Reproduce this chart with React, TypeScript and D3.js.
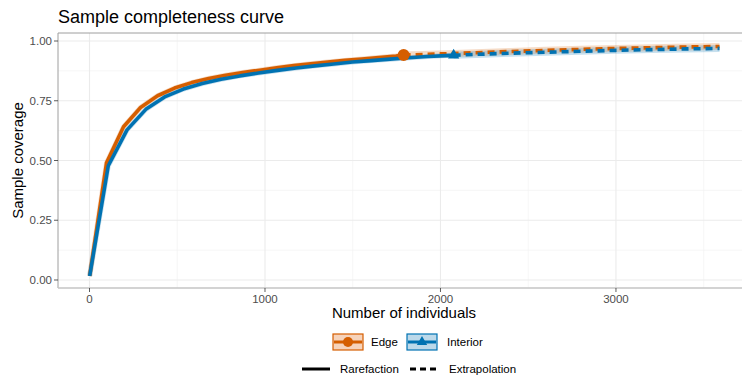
import React from "react";
import * as d3 from "d3";

// ---- data ----
const edgeRareN = [1, 97, 194, 291, 388, 485, 582, 679, 776, 873, 970, 1067, 1164, 1261, 1358, 1455, 1552, 1649, 1746, 1790];
const edgeRareC = [0.017, 0.49, 0.641, 0.722, 0.771, 0.803, 0.826, 0.843, 0.857, 0.868, 0.878, 0.888, 0.897, 0.905, 0.912, 0.919, 0.925, 0.931, 0.937, 0.941];
const edgeExtN = [1790, 2000, 2200, 2400, 2600, 2800, 3000, 3200, 3400, 3590];
const edgeExtC = [0.941, 0.946, 0.951, 0.956, 0.961, 0.965, 0.969, 0.972, 0.975, 0.977];

const intRareN = [1, 107, 214, 321, 428, 535, 642, 749, 856, 963, 1070, 1177, 1284, 1391, 1498, 1605, 1712, 1819, 1926, 2033, 2075];
const intRareC = [0.017, 0.478, 0.628, 0.714, 0.766, 0.799, 0.822, 0.84, 0.854, 0.866, 0.877, 0.887, 0.896, 0.904, 0.912, 0.918, 0.924, 0.93, 0.935, 0.939, 0.94];
const intExtN = [2075, 2200, 2400, 2600, 2800, 3000, 3200, 3400, 3590];
const intExtC = [0.94, 0.944, 0.949, 0.953, 0.957, 0.961, 0.964, 0.967, 0.969];

const xTicks = [0, 1000, 2000, 3000];
const xMinor = [500, 1500, 2500, 3500];
const yTicks = [0, 0.25, 0.5, 0.75, 1];
const yMinor = [0.125, 0.375, 0.625, 0.875];

const siteNames = ["Edge", "Interior"];
const methodNames = ["Rarefaction", "Extrapolation"];
const colors = ["#D55E00", "#0072B2"];
const fills = ["#f6d3bb", "#bcd9ea"];

const FONT = "'Liberation Sans', Arial, Helvetica, sans-serif";

export default function App() {
  const left = 58, top = 33, bottom = 288, right = 751;
  const x = d3.scaleLinear().domain([-179.5, 3769.5]).range([left, right]);
  const y = d3.scaleLinear().domain([-0.0335, 1.0335]).range([bottom, top]);
  const line = d3
    .line<[number, number]>()
    .x((d) => x(d[0]))
    .y((d) => y(d[1]));
  const zip = (a: number[], b: number[]) => a.map((v, i) => [v, b[i]] as [number, number]);

  const series = [
    { rare: zip(edgeRareN, edgeRareC), ext: zip(edgeExtN, edgeExtC) },
    { rare: zip(intRareN, intRareC), ext: zip(intExtN, intExtC) },
  ];

  const tri = (cx: number, cy: number, r: number) =>
    `M${cx},${cy - r}L${cx + r * 0.866},${cy + r * 0.5}L${cx - r * 0.866},${cy + r * 0.5}Z`;

  return (
    <svg
      width={742}
      height={378}
      style={{ position: "absolute", left: 0, top: 0, background: "#fff" }}
      fontFamily={FONT}
    >
      <defs>
        <clipPath id="panel">
          <rect x={left} y={top} width={right - left} height={bottom - top} />
        </clipPath>
      </defs>
      {/* grid */}
      <g clipPath="url(#panel)">
        {yMinor.map((t) => (
          <line key={"ym" + t} x1={left} x2={right} y1={y(t)} y2={y(t)} stroke="#f2f2f2" strokeWidth={0.7} />
        ))}
        {xMinor.map((t) => (
          <line key={"xm" + t} x1={x(t)} x2={x(t)} y1={top} y2={bottom} stroke="#f2f2f2" strokeWidth={0.7} />
        ))}
        {yTicks.map((t) => (
          <line key={"yg" + t} x1={left} x2={right} y1={y(t)} y2={y(t)} stroke="#ebebeb" strokeWidth={1.1} />
        ))}
        {xTicks.map((t) => (
          <line key={"xg" + t} x1={x(t)} x2={x(t)} y1={top} y2={bottom} stroke="#ebebeb" strokeWidth={1.1} />
        ))}
        {/* CI bands as translucent wide strokes */}
        {series.map((s, i) => (
          <g key={"band" + i} opacity={0.22}>
            <path d={line(s.rare) || ""} fill="none" stroke={colors[i]} strokeWidth={5} />
            <path d={line(s.ext) || ""} fill="none" stroke={colors[i]} strokeWidth={7} />
          </g>
        ))}
        {series.map((s, i) => (
          <g key={"ln" + i}>
            <path d={line(s.rare) || ""} fill="none" stroke={colors[i]} strokeWidth={3.6} strokeLinejoin="round" />
            <path d={line(s.ext) || ""} fill="none" stroke={colors[i]} strokeWidth={3.6} strokeDasharray="7 5" />
          </g>
        ))}
        <circle cx={x(edgeRareN[edgeRareN.length - 1])} cy={y(edgeRareC[edgeRareC.length - 1])} r={6} fill={colors[0]} />
        <path d={tri(x(intRareN[intRareN.length - 1]), y(intRareC[intRareC.length - 1]), 6.5)} fill={colors[1]} />
      </g>
      {/* panel border */}
      <line x1={left} x2={right} y1={top} y2={top} stroke="#9e9e9e" strokeWidth={1} />
      <line x1={left} x2={left} y1={top} y2={bottom} stroke="#9e9e9e" strokeWidth={1} />
      <line x1={left} x2={right} y1={bottom} y2={bottom} stroke="#c4c4c4" strokeWidth={1.6} />
      {/* axes ticks */}
      {yTicks.map((t) => (
        <g key={"yt" + t}>
          <line x1={left - 4} x2={left} y1={y(t)} y2={y(t)} stroke="#333" strokeWidth={0.8} />
          <text x={left - 6} y={y(t)} dy="0.35em" textAnchor="end" fontSize={11.5} fill="#4d4d4d">
            {d3.format(".2f")(t)}
          </text>
        </g>
      ))}
      {xTicks.map((t) => (
        <g key={"xt" + t}>
          <line x1={x(t)} x2={x(t)} y1={bottom} y2={bottom + 4} stroke="#333" strokeWidth={0.8} />
          <text x={x(t)} y={303} textAnchor="middle" fontSize={11.5} fill="#4d4d4d">
            {t}
          </text>
        </g>
      ))}
      {/* titles */}
      <text x={58} y={23} fontSize={18} fill="#000">Sample completeness curve</text>
      <text x={404} y={318} textAnchor="middle" fontSize={15} fill="#000">Number of individuals</text>
      <text transform={`translate(23,${(top + bottom) / 2}) rotate(-90)`} textAnchor="middle" fontSize={15} fill="#000">
        Sample coverage
      </text>
      {/* legend row 1 */}
      {siteNames.map((name, i) => {
        const bx = i === 0 ? 333 : 407;
        const tx = i === 0 ? 371 : 447;
        const cy = 342;
        return (
          <g key={"lg" + name}>
            <rect x={bx} y={334} width={30} height={16} fill={fills[i]} stroke={colors[i]} strokeWidth={1.2} />
            <line x1={bx + 1} x2={bx + 29} y1={cy} y2={cy} stroke={colors[i]} strokeWidth={3} />
            {i === 0 ? (
              <circle cx={bx + 15} cy={cy} r={5} fill={colors[i]} />
            ) : (
              <path d={tri(bx + 15, cy, 6)} fill={colors[i]} />
            )}
            <text x={tx} y={cy} dy="0.35em" fontSize={11.5} fill="#000">{name}</text>
          </g>
        );
      })}
      {/* legend row 2 */}
      {methodNames.map((name, i) => {
        const lx = i === 0 ? 302 : 410;
        const tx = i === 0 ? 340 : 449;
        const cy = 369;
        return (
          <g key={"lm" + name}>
            <line x1={lx} x2={lx + 28} y1={cy} y2={cy} stroke="#000" strokeWidth={3} strokeDasharray={i === 0 ? undefined : "6 4"} />
            <text x={tx} y={cy} dy="0.35em" fontSize={11.5} fill="#000">{name}</text>
          </g>
        );
      })}
    </svg>
  );
}
